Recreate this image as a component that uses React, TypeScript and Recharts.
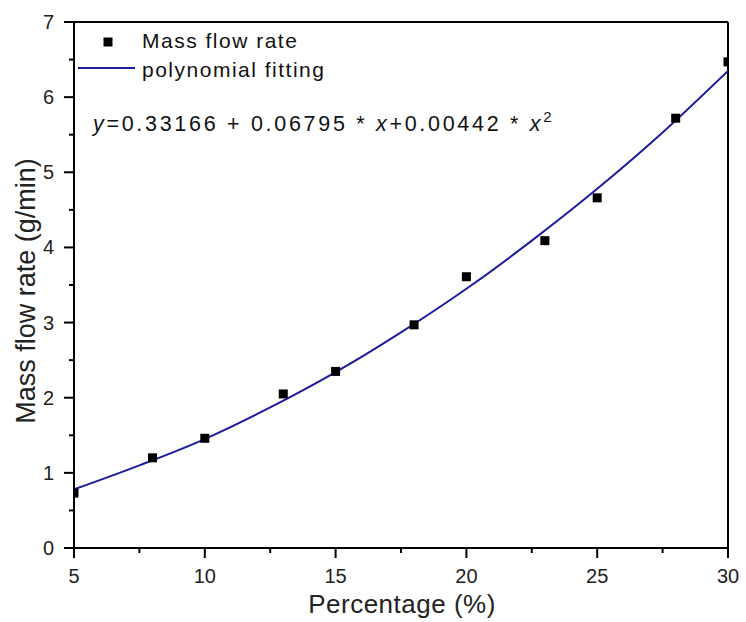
/* ── Mass flow rate vs percentage, with polynomial fit ── */

import { ComposedChart, Line, Scatter, XAxis, YAxis, ReferenceLine, Customized, Label } from "recharts";

const measuredX = [5, 8, 10, 13, 15, 18, 20, 23, 25, 28, 30];
const measuredY = [0.73, 1.2, 1.46, 2.05, 2.35, 2.97, 3.61, 4.09, 4.66, 5.72, 6.47];

// fitted curve
const fitX = [5, 7.5, 10, 12.5, 15, 17.5, 20, 22.5, 25, 27.5, 30];
const fitY = [0.78, 1.1, 1.45, 1.87, 2.34, 2.87, 3.45, 4.09, 4.78, 5.53, 6.35];

const xTicks = [5, 7.5, 10, 12.5, 15, 17.5, 20, 22.5, 25, 27.5, 30];
const yTicks = [0, 0.5, 1, 1.5, 2, 2.5, 3, 3.5, 4, 4.5, 5, 5.5, 6, 6.5, 7];

const BLUE = "#1c1c9c";
const FONT = "'Liberation Sans', Arial, sans-serif";

const points = measuredX.map((x, i) => ({ x, y: measuredY[i] }));
const fit = fitX.map((x, i) => ({ x, y: fitY[i] }));

function XTick({ x, y, payload }: any) {
  const major = Number.isInteger(payload.value);
  return (
    <g>
      <line x1={x} x2={x} y1={y} y2={y + (major ? 10 : 5)} stroke="#000" strokeWidth={2} />
      {major && (
        <text x={x} y={y + 35} textAnchor="middle" fontSize={20} fontFamily={FONT} fill="#222">
          {payload.value}
        </text>
      )}
    </g>
  );
}

function YTick({ x, y, payload }: any) {
  const major = Number.isInteger(payload.value);
  return (
    <g>
      <line x1={x - (major ? 10 : 5)} x2={x} y1={y} y2={y} stroke="#000" strokeWidth={2} />
      {major && (
        <text x={x - 20} y={y + 7} textAnchor="end" fontSize={20} fontFamily={FONT} fill="#222">
          {payload.value}
        </text>
      )}
    </g>
  );
}

function SquareDot({ cx, cy }: any) {
  return <rect x={cx - 4.5} y={cy - 4.5} width={9} height={9} fill="#000" />;
}

function LegendAndEquation() {
  return (
    <g fontFamily={FONT} fill="#111">
      <rect x={103.5} y={37.5} width={9} height={9} fill="#000" />
      <text x={142} y={48} fontSize={21} letterSpacing={1.5}>Mass flow rate</text>
      <line x1={78} x2={135} y1={68} y2={68} stroke={BLUE} strokeWidth={2} />
      <text x={142} y={77} fontSize={21} letterSpacing={1.5}>polynomial fitting</text>
      <text x={93} y={131} fontSize={21.5} letterSpacing={2.7}>
        <tspan fontStyle="italic">y</tspan>
        <tspan>=0.33166 + 0.06795 * </tspan>
        <tspan fontStyle="italic">x</tspan>
        <tspan>+0.00442 * </tspan>
        <tspan fontStyle="italic">x</tspan>
        <tspan dy={-9} fontSize={15}>2</tspan>
      </text>
    </g>
  );
}

export default function App() {
  return (
    <div style={{ position: "absolute", left: 0, top: 0, background: "#fff" }}>
      <ComposedChart width={746} height={622} data={fit} margin={{ top: 22, right: 18, bottom: 44, left: 14 }}>
        <XAxis
          type="number"
          dataKey="x"
          domain={[5, 30]}
          ticks={xTicks}
          interval={0}
          tickSize={0}
          tickMargin={0}
          tickLine={false}
          tick={<XTick />}
          axisLine={{ stroke: "#000", strokeWidth: 2 }}
          height={30}
          allowDataOverflow
        >
          <Label
            content={() => (
              <text x={402} y={613} textAnchor="middle" fontSize={26} fontFamily={FONT} fill="#222" letterSpacing={0.5}>
                Percentage (%)
              </text>
            )}
          />
        </XAxis>
        <YAxis
          type="number"
          dataKey="y"
          domain={[0, 7]}
          ticks={yTicks}
          interval={0}
          tickSize={0}
          tickMargin={0}
          tickLine={false}
          tick={<YTick />}
          axisLine={{ stroke: "#000", strokeWidth: 2 }}
          width={60}
          allowDataOverflow
        >
          <Label
            content={() => (
              <text
                x={35}
                y={291}
                transform="rotate(-90 35 291)"
                textAnchor="middle"
                fontSize={27}
                fontFamily={FONT}
                fill="#222"
              >
                Mass flow rate (g/min)
              </text>
            )}
          />
        </YAxis>
        <ReferenceLine y={7} stroke="#000" strokeWidth={2} />
        <ReferenceLine x={30} stroke="#000" strokeWidth={2} />
        <Scatter data={points} dataKey="y" shape={<SquareDot />} isAnimationActive={false} />
        <Line
          data={fit}
          dataKey="y"
          type="monotone"
          stroke={BLUE}
          strokeWidth={2}
          dot={false}
          activeDot={false}
          isAnimationActive={false}
        />
        <Customized component={LegendAndEquation} />
      </ComposedChart>
    </div>
  );
}
